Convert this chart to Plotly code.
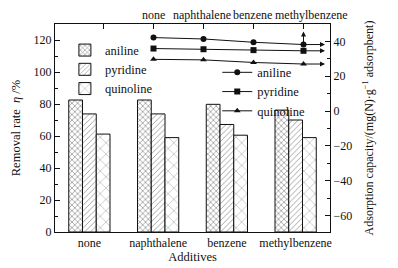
import plotly.graph_objects as go

additives = ['none', 'naphthalene', 'benzene', 'methylbenzene']
positions = [0, 1, 2, 3]

aniline_rate = [82.5, 82.5, 79.8, 76.2]
pyridine_rate = [73.8, 73.8, 67.2, 70.0]
quinoline_rate = [61.2, 59.0, 60.5, 59.0]

aniline_cap = [42.2, 41.4, 39.5, 38.2]
pyridine_cap = [35.9, 35.5, 35.0, 34.6]
quinoline_cap = [29.7, 29.4, 27.9, 27.0]

FONT = 'Liberation Serif'
INK = '#111111'

fig = go.Figure()

bar_specs = [
    ('aniline', aniline_rate, 'x', 4, 0.35),
    ('pyridine', pyridine_rate, '/', 4, 0.22),
    ('quinoline', quinoline_rate, 'x', 8, 0.12),
]
for name, vals, shape, size, sol in bar_specs:
    fig.add_trace(go.Bar(
        x=additives, y=vals, name=name, legend='legend',
        marker=dict(color='white', line=dict(color=INK, width=1),
                    pattern=dict(shape=shape, size=size, solidity=sol,
                                 fgcolor='#333333', bgcolor='white')),
    ))

line_specs = [
    ('aniline', aniline_cap, 'circle'),
    ('pyridine', pyridine_cap, 'square'),
    ('quinoline', quinoline_cap, 'triangle-up'),
]
for name, vals, sym in line_specs:
    fig.add_trace(go.Scatter(
        x=positions, y=vals, name=name, legend='legend2',
        xaxis='x2', yaxis='y2', mode='lines+markers',
        line=dict(color=INK, width=1),
        marker=dict(symbol=sym, size=6, color=INK),
    ))

# arrows pointing to the right axis, and one to the top axis
for vals in (aniline_cap, pyridine_cap, quinoline_cap):
    fig.add_annotation(x=positions[-1] + 0.43, y=vals[-1], ax=positions[-1], ay=vals[-1],
                       xref='x2', yref='y2', axref='x2', ayref='y2', text='',
                       showarrow=True, arrowhead=2, arrowsize=1, arrowwidth=1,
                       arrowcolor=INK)
fig.add_annotation(x=positions[-1], y=aniline_cap[-1] + 7.5, ax=positions[-1], ay=aniline_cap[-1],
                   xref='x2', yref='y2', axref='x2', ayref='y2', text='',
                   showarrow=True, arrowhead=2, arrowsize=1, arrowwidth=1,
                   arrowcolor=INK)

# top-axis category labels (set as a run of text above the top axis)
top_shift = [0, -2, -1, 8]
for pos, lab, sh in zip(positions, additives, top_shift):
    fig.add_annotation(x=pos, y=1, xref='x2', yref='paper', text=lab, showarrow=False,
                       xanchor='center', yanchor='bottom', xshift=sh, yshift=0,
                       font=dict(family=FONT, size=12, color=INK))

axis_common = dict(showline=True, linecolor=INK, linewidth=1, showgrid=False,
                   zeroline=False, automargin=False, tickangle=0,
                   tickfont=dict(family=FONT, size=12, color=INK))

fig.update_layout(
    width=390, height=260,
    margin=dict(l=47, r=68, t=16, b=36),
    paper_bgcolor='white', plot_bgcolor='white',
    font=dict(family=FONT, size=12, color=INK),
    barmode='group', bargap=0.4, bargroupgap=0,
    xaxis=dict(type='category', range=[-0.5, 3.5], ticks='',
               title=dict(text='Additives', font=dict(family=FONT, size=12.5), standoff=2),
               **axis_common),
    yaxis=dict(range=[0, 130], tickvals=[0, 20, 40, 60, 80, 100, 120],
               ticks='inside', ticklen=5, tickcolor=INK,
               minor=dict(ticks='inside', ticklen=3, dtick=10, tick0=0, tickcolor=INK),
               title=dict(text='Removal rate  <i>η</i> /%', font=dict(family=FONT, size=12.5), standoff=10),
               **axis_common),
    xaxis2=dict(overlaying='x', side='top', anchor='y', range=[-1.97, 3.53],
                tickvals=[-1, 0, 1, 2, 3], showticklabels=False,
                ticks='inside', ticklen=5, tickcolor=INK,
                **axis_common),
    yaxis2=dict(overlaying='y', side='right', anchor='x', range=[-69.5, 50],
                tickvals=[-60, -40, -20, 0, 20, 40],
                ticks='inside', ticklen=5, tickcolor=INK,
                minor=dict(ticks='inside', ticklen=3, dtick=10, tick0=0, tickcolor=INK),
                title=dict(text='Adsorption capacity/(mg(N)·g<sup>−1</sup> adsorpbent)',
                           font=dict(family=FONT, size=12), standoff=13),
                **axis_common),
    legend=dict(x=0.036, y=0.945, xanchor='left', yanchor='top', bgcolor='rgba(0,0,0,0)',
                font=dict(family=FONT, size=12.5, color=INK), tracegroupgap=0),
    legend2=dict(x=0.59, y=0.838, xanchor='left', yanchor='top', bgcolor='rgba(0,0,0,0)',
                 font=dict(family=FONT, size=12.5, color=INK), tracegroupgap=0),
    showlegend=True,
)

fig.write_html('out.html')
